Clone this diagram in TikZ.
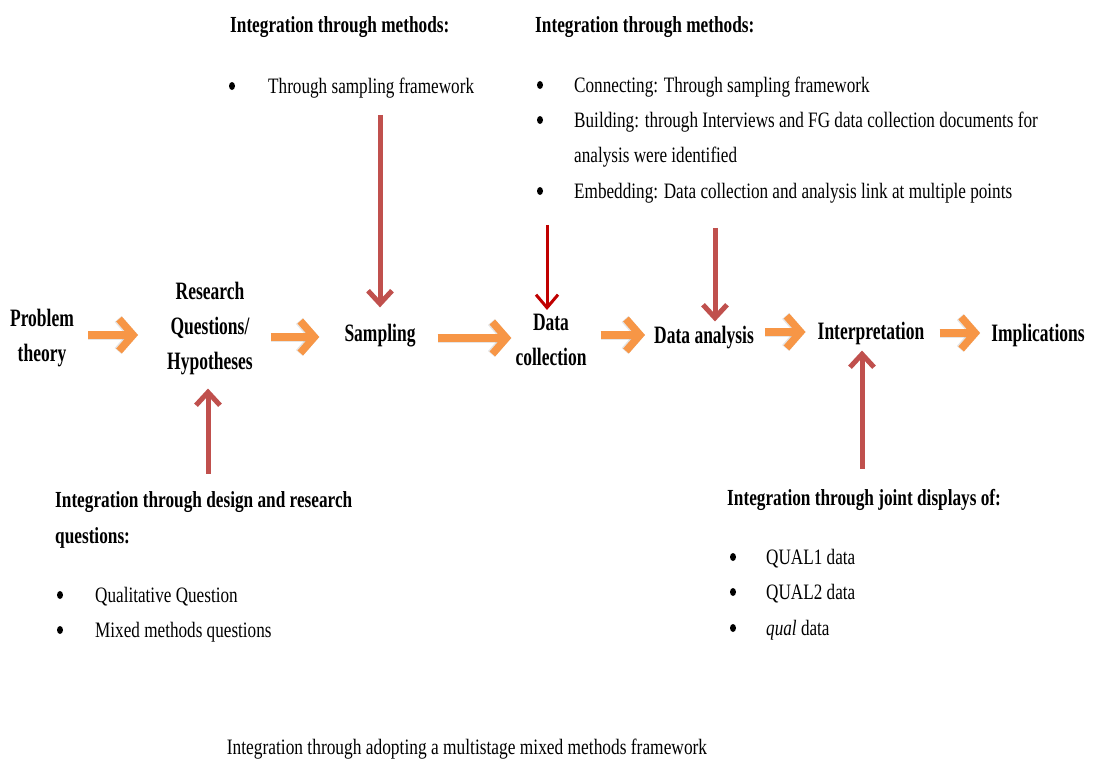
\documentclass[tikz,border=0pt]{standalone}
\usepackage{fontspec}
\usetikzlibrary{arrows.meta,shapes.geometric}
\newfontfamily\lblfont[FakeStretch=0.70]{Liberation Serif}
\newfontfamily\hdfont[FakeStretch=0.75]{Liberation Serif}
\newfontfamily\itmfont[FakeStretch=0.78]{Liberation Serif}
\newfontfamily\capfont[FakeStretch=0.79]{Liberation Serif}
\definecolor{flow}{HTML}{F79646}
\definecolor{link}{HTML}{C0504D}
\definecolor{linkdark}{HTML}{C00000}
\tikzset{
  lbl/.style={font=\lblfont\bfseries\fontsize{25}{35}\selectfont, align=center, inner sep=2pt},
  hd/.style={font=\hdfont\bfseries\fontsize{23}{36}\selectfont, anchor=base west, inner sep=0pt},
  itm/.style={font=\itmfont\fontsize{22}{35}\selectfont, anchor=base west, inner sep=0pt},
  bul/.style={ellipse, fill=black, inner sep=0pt, minimum width=6pt, minimum height=8pt, yshift=7pt},
  flowtip/.style={-{Straight Barb[length=14pt,width=32pt]}},
  flowarrow/.style={draw=flow, line width=7.5pt, flowtip},
  flowshadow/.style={draw=black, opacity=0.1, line width=9pt, flowtip, xshift=2pt, yshift=-3pt},
  linkarrow/.style={draw=link, line width=5pt, -{Straight Barb[length=13pt,width=24pt]}},
  linkdarkarrow/.style={draw=linkdark, line width=3pt, -{Straight Barb[length=13pt,width=22pt]}},
}
\begin{document}
\begin{tikzpicture}[x=1pt,y=-1pt]
\useasboundingbox[fill=white] (0,0) rectangle (1094,763);

% main stages
\node[lbl] (prob)   at (42,338)   {Problem\\theory};
\node[lbl] (rq)     at (210,329)  {Research\\Questions/\\Hypotheses};
\node[lbl] (samp)   at (380,336)  {Sampling};
\node[lbl] (dc)     at (551,340)  {Data\\collection};
\node[lbl] (da)     at (704,338)  {Data analysis};
\node[lbl] (interp) at (871,333)  {Interpretation};
\node[lbl] (impl)   at (1038,335) {Implications};

% top left block
\node[hd] (h1) at (230,32) {Integration through methods:};
\node[bul] (b11) at (232,93) {};
\node[itm] (t11) at (268,93) {Through sampling framework};

% top right block
\node[hd] (h2) at (535,32) {Integration through methods:};
\node[bul] (b21) at (540,92) {};
\node[itm] (t21) at (574,92) {Connecting: Through sampling framework};
\node[bul] (b22) at (540,127) {};
\node[itm] (t22) at (574,127) {Building: through Interviews and FG data collection documents for};
\node[itm] (t22b) at (574,162) {analysis were identified};
\node[bul] (b23) at (540,198) {};
\node[itm] (t23) at (574,198) {Embedding: Data collection and analysis link at multiple points};

% bottom left block
\node[hd] (h3) at (55,507) {Integration through design and research};
\node[hd] (h3b) at (55,543) {questions:};
\node[bul] (b31) at (60,602) {};
\node[itm] (t31) at (95,602) {Qualitative Question};
\node[bul] (b32) at (60,637) {};
\node[itm] (t32) at (95,637) {Mixed methods questions};

% bottom right block
\node[hd] (h4) at (727,505) {Integration through joint displays of:};
\node[bul] (b41) at (733,564) {};
\node[itm] (t41) at (766,564) {QUAL1 data};
\node[bul] (b42) at (733,599) {};
\node[itm] (t42) at (766,599) {QUAL2 data};
\node[bul] (b43) at (733,635) {};
\node[itm] (t43) at (766,635) {\textit{qual} data};

% caption
\node[font=\capfont\fontsize{22}{26}\selectfont, anchor=base, inner sep=0pt] (cap) at (467,754)
  {Integration through adopting a multistage mixed methods framework};

% flow between stages: from/to/vertical offset/start gap/end gap
\foreach \a/\b/\dy/\s/\e in {prob/rq/3/12/27, rq/samp/-8/16/23, samp/dc/-2/20/2,
                             dc/da/5/12/7, da/interp/6/9/10, interp/impl/0/13/9}{
  \draw[flowshadow, shorten <=\s pt, shorten >=\e pt]
    ([yshift=\dy pt]\a.east) -- ([yshift=\dy pt]\a.east -| \b.west);
  \draw[flowarrow, shorten <=\s pt, shorten >=\e pt]
    ([yshift=\dy pt]\a.east) -- ([yshift=\dy pt]\a.east -| \b.west);
}

% links from the integration notes to the stages
\draw[linkarrow, shorten <=17pt, shorten >=15pt] (samp.north |- t11.south) -- (samp.north);

\path ([xshift=-4pt]dc.north) coordinate (dcin);
\draw[linkdarkarrow, shorten <=22pt, shorten >=2pt] (dcin |- t23.south) -- (dcin);

\path ([xshift=11pt]da.north) coordinate (dain);
\draw[linkarrow, shorten <=25pt, shorten >=3pt] (dain |- t23.south) -- (dain);

\path ([xshift=-2pt]rq.south) coordinate (rqin);
\draw[linkarrow, shorten <=17pt, shorten >=11pt] (rqin |- h3.north) -- (rqin);

\path ([xshift=-9pt]interp.south) coordinate (interpin);
\draw[linkarrow, shorten <=20pt, shorten >=4pt] (interpin |- h4.north) -- (interpin);
\end{tikzpicture}
\end{document}
